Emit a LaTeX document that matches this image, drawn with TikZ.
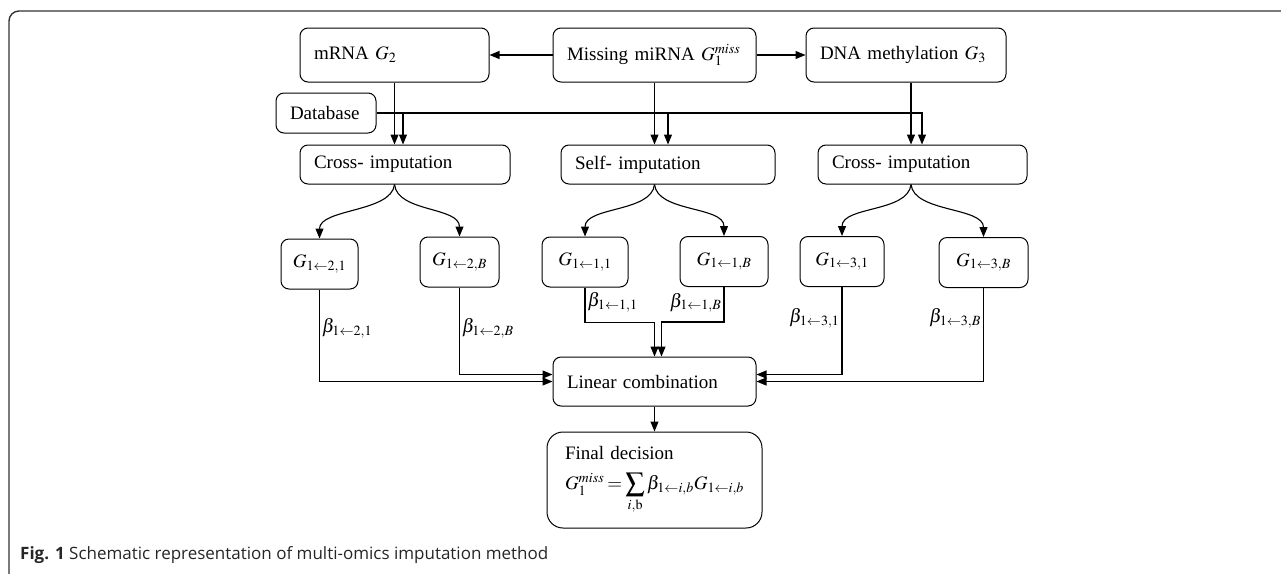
\documentclass[tikz,border=0pt]{standalone}
\usepackage{mathptmx}
\usepackage{fontspec}
\setmainfont{Liberation Serif}
\newfontfamily\capfont{Open Sans}
\usepackage{amsmath}
\usetikzlibrary{arrows.meta,calc}

\begin{document}
\begin{tikzpicture}[x=1pt,y=-1pt,
  every node/.style={font=\fontsize{19}{23}\selectfont},
  box/.style={draw,line width=1pt,rounded corners=8pt,inner xsep=14pt,inner ysep=0pt,align=left},
  gbox/.style={draw,line width=1pt,rounded corners=8pt,inner sep=0pt,minimum height=50pt,align=center},
  lab/.style={inner sep=2pt},
  arr/.style={line width=1.1pt,-{Triangle[length=10pt,width=8pt]}},
  ln/.style={line width=1.1pt}
  ]
  \useasboundingbox (0,0) rectangle (1281,573);
  \clip (0,0) rectangle (1281,573);
  \draw[line width=1.4pt,rounded corners=10pt,black!80] (9,11) rectangle (1320,600);

  \node[box,text width=161pt,minimum height=54pt] (mrna) at (394.5,55) {mRNA $G_2$};
  \node[box,text width=175pt,minimum height=54pt] (miss) at (654.5,55) {Missing miRNA $G_1^{miss}$};
  \node[box,text width=172pt,minimum height=54pt] (dna) at (906,55) {DNA methylation $G_3$};
  \node[box,text width=72pt,minimum height=40pt] (db) at (326,113) {Database};

  \node[box,text width=182pt,minimum height=39pt] (c1) at (405,164.5) {Cross- imputation};
  \node[box,text width=186pt,minimum height=39pt] (self) at (668,164.5) {Self- imputation};
  \node[box,text width=181pt,minimum height=39pt] (c2) at (922.5,164.5) {Cross- imputation};

  \node[gbox,minimum width=77pt] (g21) at (319.5,264) {$G_{1\leftarrow 2,1}$};
  \node[gbox,minimum width=79pt] (g2B) at (459.5,262) {$G_{1\leftarrow 2,B}$};
  \node[gbox,minimum width=86pt] (g11) at (585,262) {$G_{1\leftarrow 1,1}$};
  \node[gbox,minimum width=88pt] (g1B) at (724,261.5) {$G_{1\leftarrow 1,B}$};
  \node[gbox,minimum width=84pt] (g31) at (842,261.5) {$G_{1\leftarrow 3,1}$};
  \node[gbox,minimum width=89pt] (g3B) at (983.5,262.5) {$G_{1\leftarrow 3,B}$};

  \node[box,text width=175pt,minimum height=49pt] (lin) at (654.5,381.5) {Linear combination};
  \node[box,inner xsep=18pt,text width=179pt,minimum height=96pt,rounded corners=16pt] (fin) at (654.5,480)
    {Final decision\\[7pt]
     $G_1^{miss}=\displaystyle\sum_{i,\mathrm{b}}\beta_{1\leftarrow i,b}G_{1\leftarrow i,b}$};

  \node[font=\capfont\fontsize{17}{21}\selectfont,text=black!85,anchor=base west,inner sep=0pt] (cap) at (20,559)
    {\textbf{Fig. 1} Schematic representation of multi-omics imputation method};

  \draw[arr] (miss.west) -- (mrna.east);
  \draw[arr] (miss.east) -- (dna.west);

  \coordinate (s1) at (c1.south -| mrna.south);
  \coordinate (s2) at (self.south -| miss.south);
  \coordinate (s3) at ([xshift=5pt]dna.south |- c2.south);
  \coordinate (d1) at (403,113);
  \coordinate (d2) at (668,113);
  \coordinate (d3) at (922,113);

  \draw[arr] (mrna.south) -- (mrna.south |- c1.north);
  \draw[arr] (miss.south) -- (miss.south |- self.north);
  \draw[arr] ([xshift=5pt]dna.south) -- (s3 |- c2.north);
  \draw[arr] (db.east) -| (d3 |- c2.north);
  \draw[arr] (d1) -- (d1 |- c1.north);
  \draw[arr] (d2) -- (d2 |- self.north);

  \draw[arr] (s1) .. controls +(-3,28) and +(0,-30) .. (g21.north);
  \draw[arr] (s1) .. controls +(3,28) and +(0,-30) .. (g2B.north);
  \draw[arr] (s2) .. controls +(-3,28) and +(0,-30) .. (g11.north);
  \draw[arr] (s2) .. controls +(3,28) and +(0,-30) .. (g1B.north);
  \draw[arr] (s3) .. controls +(-3,28) and +(0,-30) .. (g31.north);
  \draw[arr] (s3) .. controls +(3,28) and +(0,-30) .. (g3B.north);

  \draw[arr] (g21.south) |- node[lab,right,pos=0.21] {$\beta_{1\leftarrow 2,1}$} (lin.west);
  \draw[arr] (g2B.south) |- node[lab,right,pos=0.235] {$\beta_{1\leftarrow 2,B}$} ([yshift=7pt]lin.west);
  \draw[arr] (g11.south) -- node[lab,right,pos=0.42] {$\beta_{1\leftarrow 1,1}$} ++(0,35) -| (lin.north);
  \draw[arr] (g1B.south) -- node[lab,left,pos=0.45] {$\beta_{1\leftarrow 1,B}$} ++(0,35) -| ([xshift=7pt]lin.north);
  \draw[arr] (g31.south) |- node[lab,left,pos=0.18] {$\beta_{1\leftarrow 3,1}$} ([yshift=7pt]lin.east);
  \draw[arr] (g3B.south) |- node[lab,left,pos=0.16] {$\beta_{1\leftarrow 3,B}$} (lin.east);

  \draw[arr] (lin.south) -- (fin.north);
\end{tikzpicture}
\end{document}
